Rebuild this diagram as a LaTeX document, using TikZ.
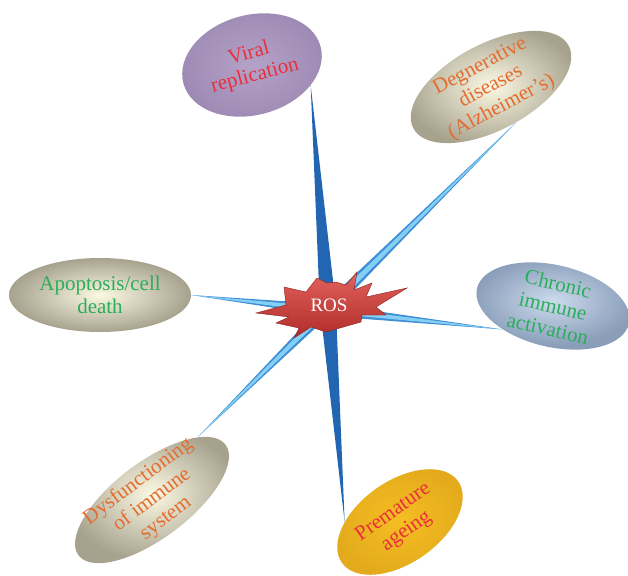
\documentclass[tikz,border=0pt]{standalone}
\usepackage{fontspec}
\setmainfont{Liberation Serif}
\usetikzlibrary{shapes.geometric,calc}

\definecolor{beigeIn}{HTML}{FCF9E3}
\definecolor{beigeOut}{HTML}{A6A28E}
\definecolor{violetIn}{HTML}{B4A2C8}
\definecolor{violetOut}{HTML}{9C8AB4}
\definecolor{skyIn}{HTML}{CCDAEC}
\definecolor{skyOut}{HTML}{8A9EBA}
\definecolor{amberIn}{HTML}{F5BE22}
\definecolor{amberOut}{HTML}{E2AA1C}
\definecolor{txtRed}{HTML}{EA2E3C}
\definecolor{txtOrange}{HTML}{E46C30}
\definecolor{txtGreen}{HTML}{2BAE5B}
\definecolor{beamdark}{HTML}{2266B2}
\definecolor{beamedge}{HTML}{3E8ED6}
\definecolor{beamcore}{HTML}{86CFF4}
\definecolor{burstTop}{HTML}{E2625C}
\definecolor{burstBot}{HTML}{B02C2A}
\definecolor{burstRim}{HTML}{8A2020}

\pgfdeclarelayer{beams}
\pgfdeclarelayer{burst}
\pgfsetlayers{beams,burst,main}

\begin{document}
\begin{tikzpicture}[x=1pt,y=-1pt,bubble/.style={shape=ellipse,inner sep=-6pt,align=center,font=\fontsize{21}{23}\selectfont},bubbleB/.style={bubble,inner color=beigeIn,outer color=beigeOut},bubbleV/.style={bubble,inner color=violetIn,outer color=violetOut,text=txtRed},bubbleS/.style={bubble,inner color=skyIn,outer color=skyOut,text=txtGreen},bubbleA/.style={bubble,inner color=amberIn,outer color=amberOut,text=txtRed},beamD/.style={fill=beamdark},beamL/.style={fill=beamedge},beamC/.style={fill=beamcore}]
\def\wD{8pt};
\def\wL{6pt};
\def\wC{3pt};

\useasboundingbox (0,0) rectangle (628,575);

\node[bubbleV,rotate=15,minimum width=142pt,minimum height=100pt] (viral) at (252,65) {Viral\\replication};
\node[bubbleB,text=txtOrange,rotate=28,minimum width=176pt,minimum height=86pt] (degen) at (491,87) {Degnerative\\diseases\\(Alzheimer’s)};
\node[bubbleB,text=txtGreen,minimum width=182pt,minimum height=74pt] (apop) at (100,295) {Apoptosis/cell\\death};
\node[bubbleS,rotate=-13,minimum width=156pt,minimum height=82pt] (chronic) at (553,306) {Chronic\\immune\\activation};
\node[bubbleB,text=txtOrange,rotate=37,minimum width=184pt,minimum height=76pt] (dysf) at (152,500) {Dysfunctioning\\of immune\\system};
\node[bubbleA,rotate=35,minimum width=142pt,minimum height=82pt] (ageing) at (400,522) {Premature\\ageing};

\node[text=white,font=\fontsize{19}{21}\selectfont] (ros) at (329,305) {ROS};

% beams
\coordinate (mD) at ($(viral.-34)!(ros)!(ageing.145)$);
\coordinate (mL) at ($(degen.-83)!(ros)!(dysf.17)$);
\coordinate (mH) at ($(apop.0)!(ros)!(chronic.218)$);

\begin{pgfonlayer}{beams}
\fill[beamD] (viral.-34) -- ($(mD)!\wD!90:(viral.-34)$) -- (ageing.145) -- ($(mD)!\wD!-90:(viral.-34)$) -- cycle;
\fill[beamL] (degen.-83) -- ($(mL)!\wL!90:(degen.-83)$) -- (dysf.17) -- ($(mL)!\wL!-90:(degen.-83)$) -- cycle;
\fill[beamC] (degen.-83) -- ($(mL)!\wC!90:(degen.-83)$) -- (dysf.17) -- ($(mL)!\wC!-90:(degen.-83)$) -- cycle;
\fill[beamL] (apop.0) -- ($(mH)!\wL!90:(apop.0)$) -- (chronic.218) -- ($(mH)!\wL!-90:(apop.0)$) -- cycle;
\fill[beamC] (apop.0) -- ($(mH)!\wC!90:(apop.0)$) -- (chronic.218) -- ($(mH)!\wC!-90:(apop.0)$) -- cycle;
\end{pgfonlayer}

% burst
\begin{pgfonlayer}{burst}
\begin{scope}[shift={(ros.center)}]
\draw[burstRim,line width=0.4pt,top color=burstTop,bottom color=burstBot] (-73,8) -- (-43,0) -- (-45,-18) -- (-23,-13) -- (-12,-27) -- (-2,-22) -- (7,-23) -- (17,-20) -- (28,-33) -- (25,-15) -- (43,-22) -- (37,-8) -- (78,-17) -- (47,2) -- (57,10) -- (33,10) -- (32,17) -- (-3,27) -- (-18,22) -- (-35,33) -- (-30,23) -- (-53,18) -- (-40,12) -- cycle;
\end{scope}
\end{pgfonlayer}
\end{tikzpicture}
\end{document}
